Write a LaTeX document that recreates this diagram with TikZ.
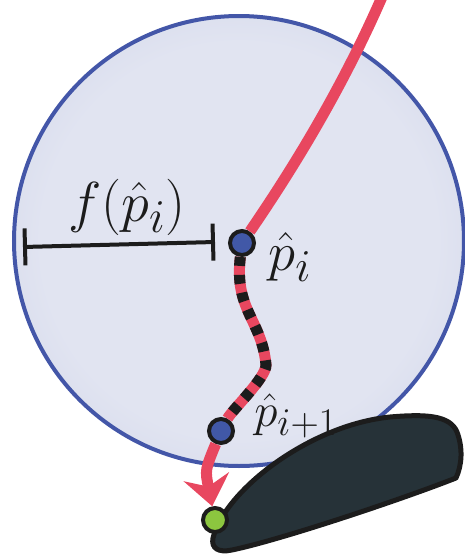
\documentclass[tikz,border=0pt]{standalone}
\usepackage{fix-cm}
\usepackage{xcolor}
\usepackage{tikz}
\usetikzlibrary{calc,positioning,arrows.meta}
\definecolor{ballin}{HTML}{E1E4F1}
\definecolor{ballout}{HTML}{B9C1DE}
\definecolor{ballrim}{HTML}{4356A8}
\definecolor{track}{HTML}{E8475F}
\definecolor{ink}{HTML}{1C1C1C}
\definecolor{wpblue}{HTML}{4158A7}
\definecolor{goalgreen}{HTML}{8CC63F}
\definecolor{obst}{HTML}{263238}
\newcommand{\LabS}{\fontsize{24.88}{30}\selectfont}
\pgfdeclareradialshading{ballshade}{\pgfpoint{0bp}{0bp}}{color(0bp)=(ballin); color(22bp)=(ballin); color(50bp)=(ballout)}
\tikzset{
  >={Stealth[length=15pt,width=23pt,inset=5pt]},
  ball/.style={shade, shading=ballshade, draw=ballrim, line width=2pt},
  wpt/.style={circle, inner sep=0pt, minimum size=12pt, fill=wpblue, draw=ink, line width=2pt},
  goalpt/.style={wpt, fill=goalgreen},
  obstacle/.style={fill=obst, draw=ink, line width=2.5pt, line join=round},
  % track pieces
  trackline/.style={draw=track, line width=5.5pt},
  trackdash/.style={trackline, postaction={draw=ink, line width=5.5pt, dash pattern=on 4.5pt off 4.5pt}},
  trackarrow/.style={trackline, ->},
  dimbar/.style={draw=ink, line width=2pt, {Bar[width=18.5pt]}-{Bar[width=18.5pt]}},
  lab/.style={inner sep=0pt, font=\LabS, text=ink, scale=1.1, transform shape},
}

\begin{document}
\begin{tikzpicture}[x=0.5pt,y=-0.5pt]
  \useasboundingbox (0,0) rectangle (465,558);
  \coordinate (ctr) at (239,241);
  \draw[ball] (ctr) circle[radius=225];

  % obstacle
  \draw[obstacle] (213,538) .. controls (225,490) and (310,425) .. (390,417)
    .. controls (425,414) and (450,415) .. (457,432)
    .. controls (463,448) and (462,465) .. (456,478)
    .. controls (400,500) and (280,540) .. (232,550)
    .. controls (218,553) and (211,548) .. cycle;

  \node[wpt] (pi) at (242,243) {};
  \node[wpt] (pnext) at (221,431) {};
  \node[goalpt] (goal) at (215,520) {};
  \coordinate (topend) at (385,-10);

  \node[lab, scale=1.03] (flab) at (127,207) {$f(\hat{p}_i)$};
  \node[lab] (pilab) at (290,257) {$\hat{p}_i$};
  \node[lab, scale=0.86] (pnextlab) at (296,416) {$\hat{p}_{i+1}$};

  \coordinate (barL) at (23,247);
  \coordinate (barR) at (215,242);
  \draw[dimbar] (barL) -- (barR);

  \draw[trackline] (pi) .. controls (285,180) and (340,95) .. (topend);
  \draw[trackdash] (pi) .. controls (234,310) and (262,320) .. (266,365)
    .. controls (266,378) and (232,410) .. (pnext);
  \draw[trackarrow] (pnext) .. controls (205,470) .. (goal);
\end{tikzpicture}
\end{document}
